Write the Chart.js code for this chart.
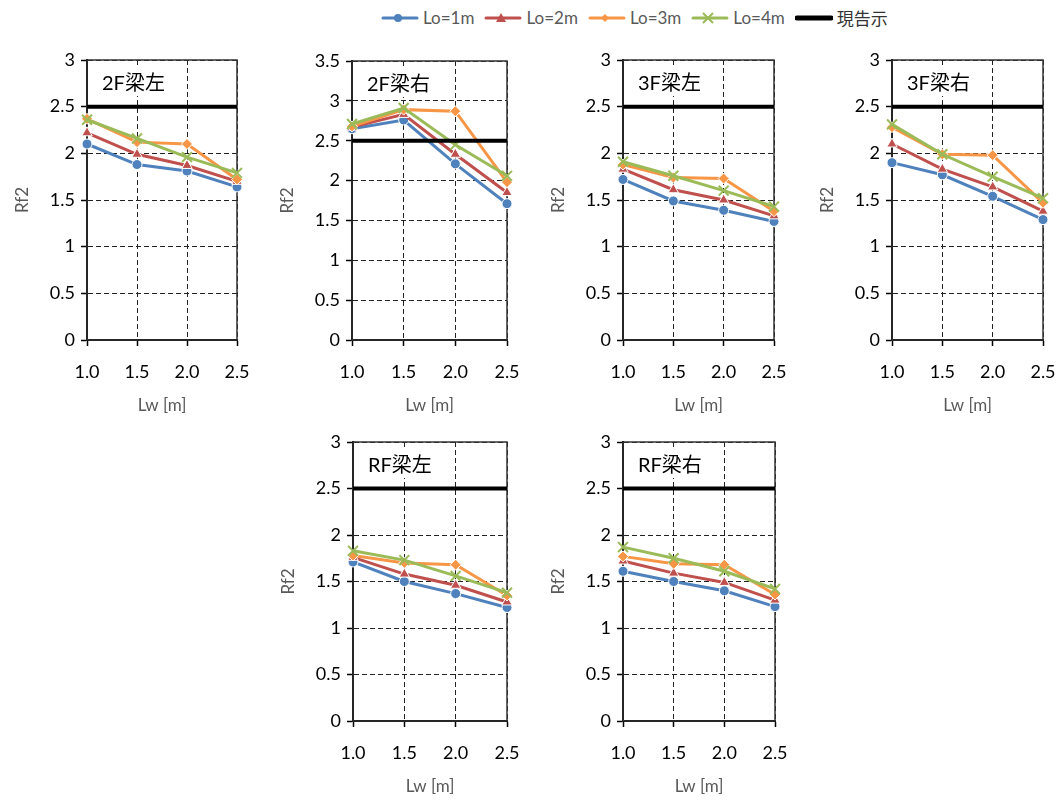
<!DOCTYPE html>
<html>
<head>
<meta charset="utf-8">
<script src="https://cdn.jsdelivr.net/npm/chart.js@4"></script>
<style>
  body { margin: 0; background: #fff; width: 1063px; height: 802px; overflow: hidden; position: relative;
         font-family: Lato, "Noto Sans CJK JP", sans-serif; }
  canvas { position: absolute; }
  #legend { position: absolute; left: 381px; top: 5px; display: flex; align-items: center;
            font-size: 17px; color: #595959; }
  #legend .item { display: flex; align-items: center; margin-right: 10px; }
  #legend svg { margin-right: 4px; }
</style>
</head>
<body>
<div id="legend"></div>
<script>
// データ
const lwLabels = ["1.0", "1.5", "2.0", "2.5"];
const panelNames = ["2F梁左", "2F梁右", "3F梁左", "3F梁右", "RF梁左", "RF梁右"];
const seriesNames = ["Lo=1m", "Lo=2m", "Lo=3m", "Lo=4m", "現告示"];
const yMaxes = [3, 3.5, 3, 3, 3, 3];

// 各パネルの値 (Lw = 1.0, 1.5, 2.0, 2.5)
const lo1 = [
  [2.1, 1.88, 1.81, 1.64],
  [2.65, 2.76, 2.21, 1.71],
  [1.72, 1.49, 1.39, 1.27],
  [1.9, 1.77, 1.54, 1.29],
  [1.71, 1.5, 1.37, 1.22],
  [1.61, 1.5, 1.4, 1.23]
];
const lo2 = [
  [2.22, 1.99, 1.87, 1.7],
  [2.67, 2.83, 2.33, 1.85],
  [1.83, 1.61, 1.5, 1.33],
  [2.1, 1.83, 1.64, 1.38],
  [1.76, 1.58, 1.46, 1.28],
  [1.72, 1.59, 1.49, 1.3]
];
const lo3 = [
  [2.37, 2.12, 2.1, 1.72],
  [2.68, 2.89, 2.87, 1.98],
  [1.88, 1.74, 1.73, 1.38],
  [2.28, 1.99, 1.98, 1.47],
  [1.78, 1.7, 1.68, 1.35],
  [1.77, 1.69, 1.68, 1.36]
];
const lo4 = [
  [2.36, 2.16, 1.96, 1.79],
  [2.71, 2.91, 2.45, 2.06],
  [1.91, 1.76, 1.6, 1.43],
  [2.31, 1.99, 1.75, 1.52],
  [1.83, 1.73, 1.56, 1.38],
  [1.87, 1.75, 1.61, 1.42]
];
const genKokuji = [2.5, 2.5, 2.5, 2.5];

// 見た目
const colors = ["#4F81BD", "#C0504D", "#F79646", "#9BBB59", "#000000"];
const pointStyles = ["circle", "triangle", "rectRot", "crossRot", false];
const pointRadii = [5, 6, 5.5, 7, 0];

// 各パネルのプロット領域 [left, top, right, bottom]
const areas = [
  [87, 60, 237, 340],
  [352, 61, 507, 340],
  [623, 60, 774, 340],
  [892, 60, 1043, 340],
  [353, 442, 507, 721],
  [623, 442, 775, 721]
];

const AXIS_W = 87, AXIS_H = 80, PAD_T = 20, PAD_R = 16;
const FONT = "Lato, 'Noto Sans CJK JP', sans-serif";

// 枠とタイトル
const framePlugin = {
  id: "frame",
  beforeDatasetsDraw(chart, args, opts) {
    const a = chart.chartArea;
    const c = chart.ctx;
    c.save();
    c.strokeStyle = "#333";
    c.lineWidth = 1.5;
    c.strokeRect(a.left, a.top, a.right - a.left, a.bottom - a.top);
    // タイトルの白い箱
    c.fillStyle = "#fff";
    c.fillRect(a.left + 10, a.top + 6, 86, 30);
    c.fillStyle = "#000";
    c.font = "20px " + FONT;
    c.textBaseline = "middle";
    c.fillText(opts.title, a.left + 15, a.top + 24);
    c.restore();
  }
};

function makeChart(i) {
  const [l, t, r, b] = areas[i];
  const canvas = document.createElement("canvas");
  let w = (r - l) + AXIS_W + PAD_R;
  let h = (b - t) + PAD_T + AXIS_H;
  canvas.width = w;
  canvas.height = h;
  canvas.style.width = w + "px";
  canvas.style.height = h + "px";
  document.body.appendChild(canvas);

  const values = [lo1[i], lo2[i], lo3[i], lo4[i], genKokuji];
  const datasets = values.map((d, k) => ({
    label: seriesNames[k],
    data: d,
    borderColor: colors[k],
    backgroundColor: colors[k],
    borderWidth: k === 4 ? 4 : 3,
    pointStyle: pointStyles[k],
    pointRadius: pointRadii[k],
    pointBackgroundColor: colors[k],
    pointBorderColor: k === 3 ? colors[k] : "#fff",
    pointBorderWidth: k === 3 ? 2 : 1,
    order: 4 - k,
    tension: 0
  }));

  const chart = new Chart(canvas, {
    type: "line",
    data: { labels: lwLabels, datasets: datasets },
    plugins: [framePlugin],
    options: {
      responsive: false,
      animation: false,
      devicePixelRatio: 1,
      layout: { padding: { top: PAD_T, right: PAD_R, left: 0, bottom: 0 } },
      plugins: {
        legend: { display: false },
        tooltip: { enabled: false },
        frame: { title: panelNames[i] }
      },
      scales: {
        x: {
          type: "category",
          offset: false,
          grid: { color: "#222", lineWidth: 1, tickLength: 6, tickColor: "#000", tickWidth: 1.5, tickBorderDash: [], offset: false },
          border: { color: "#000", width: 2, dash: [5, 3] },
          ticks: { color: "#000", font: { family: FONT, size: 18 }, padding: 15, maxRotation: 0 },
          title: { display: true, text: "Lw [m]", color: "#595959", font: { family: FONT, size: 17 }, padding: { top: 0, bottom: 4 } },
          afterFit: (s) => { s.height = AXIS_H; s.paddingLeft = 0; s.paddingRight = 0; }
        },
        y: {
          min: 0,
          max: yMaxes[i],
          grid: { color: "#222", lineWidth: 1, tickLength: 6, tickColor: "#000", tickWidth: 1.5, tickBorderDash: [] },
          border: { color: "#000", width: 2, dash: [5, 3] },
          ticks: { stepSize: 0.5, color: "#000", font: { family: FONT, size: 18 }, padding: 6,
                   callback: (v) => String(Number(v)) },
          title: { display: true, text: "Rf2", color: "#595959", font: { family: FONT, size: 17 }, padding: { top: 12, bottom: 0 } },
          afterFit: (s) => { s.width = AXIS_W; s.paddingTop = 0; s.paddingBottom = 0; }
        }
      }
    }
  });

  // プロット領域が指定どおりになるように補正
  let ca = chart.chartArea;
  const dw = (r - l) - (ca.right - ca.left);
  const dh = (b - t) - (ca.bottom - ca.top);
  if (Math.abs(dw) > 0.5 || Math.abs(dh) > 0.5) {
    w += dw;
    h += dh;
    chart.resize(w, h);
    ca = chart.chartArea;
  }
  canvas.style.left = (l - ca.left) + "px";
  canvas.style.top = (t - ca.top) + "px";
}

for (let i = 0; i < panelNames.length; i++) makeChart(i);

// 凡例
const legend = document.getElementById("legend");
const markerSvg = [
  '<circle cx="17" cy="8" r="4" fill="#4F81BD"/>',
  '<polygon points="17,3 22,12 12,12" fill="#C0504D"/>',
  '<polygon points="17,4 21,8 17,12 13,8" fill="#F79646"/>',
  '<path d="M12,3 L22,13 M22,3 L12,13" stroke="#9BBB59" stroke-width="2" fill="none"/>',
  ''
];
seriesNames.forEach((name, k) => {
  const item = document.createElement("div");
  item.className = "item";
  const lw = k === 4 ? 5 : 3;
  item.innerHTML = '<svg width="38" height="16"><line x1="2" y1="8" x2="36" y2="8" stroke="' + colors[k] +
    '" stroke-width="' + lw + '" stroke-linecap="round"/>' + markerSvg[k] + '</svg><span>' + name + '</span>';
  if (k === 4) item.querySelector("span").style.color = "#333";
  legend.appendChild(item);
});
</script>
</body>
</html>
